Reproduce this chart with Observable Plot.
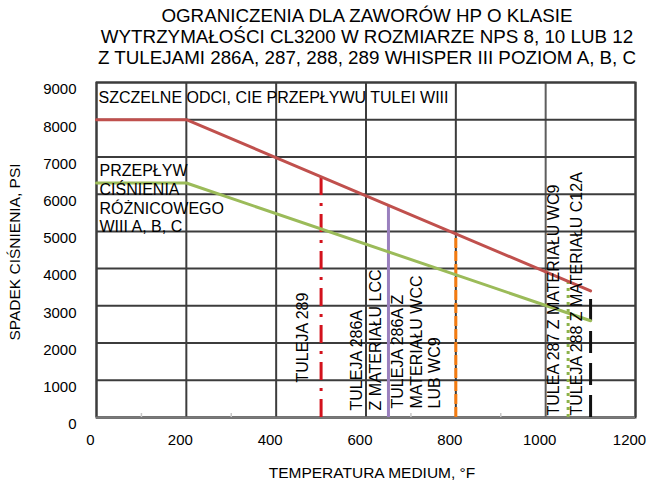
<!DOCTYPE html>
<html><head><meta charset="utf-8">
<script src="https://cdn.jsdelivr.net/npm/d3@7"></script>
<script src="https://cdn.jsdelivr.net/npm/@observablehq/plot@0.6"></script>
<style>
body{margin:0;background:#fff;}
#chart svg{font-family:"Liberation Sans",Arial,sans-serif;overflow:visible;}
</style>
</head><body><div id="chart"></div>
<script>
// ---- data ----
const titleLines = [
  "OGRANICZENIA DLA ZAWORÓW HP O KLASIE",
  "WYTRZYMAŁOŚCI CL3200 W ROZMIARZE NPS 8, 10 LUB 12",
  "Z TULEJAMI 286A, 287, 288, 289 WHISPER III POZIOM A, B, C"
];
const xLabel = "TEMPERATURA MEDIUM, °F";
const yLabel = "SPADEK CIŚNIENIA, PSI";
const xTicks = [0, 200, 400, 600, 800, 1000, 1200];
const xMinorTicks = [100, 300, 500, 700, 900, 1100];
const yTicks = [0, 1000, 2000, 3000, 4000, 5000, 6000, 7000, 8000, 9000];

const sealTemp = [0, 200, 1100];
const sealPsi = [8000, 8000, 3400];
const diffTemp = [0, 200, 1100];
const diffPsi = [6300, 6300, 2600];

const sleeveTemp = [500, 650, 800, 1050, 1100];
const sleeveTop = [6470, 5700, 4950, 3650, 3350];
const sleeveLabels = [
  "TULEJA 289",
  "TULEJA 286A\nZ MATERIAŁU LCC",
  "TULEJA 286A Z\nMATERIAŁU WCC\nLUB WC9",
  "TULEA 287 Z MATERIAŁU WC9",
  "TULEJA 288 Z MATERIAŁU C12A"
];
const sealLabel = "SZCZELNE ODCI, CIE PRZEPŁYWU TULEI WIII";
const diffLabel = "PRZEPŁYW\nCIŚNIENIA\nRÓŻNICOWEGO\nWIII A, B, C";

// ---- styles ----
const sleeveStyle = [
  {stroke: "#d3121c", dash: "18,8,3,8"},
  {stroke: "#9a80be", dash: null},
  {stroke: "#f47b10", dash: "10,3"},
  {stroke: "#8cb24a", dash: "3,4"},
  {stroke: "#111111", dash: "22,10"}
];
const labelOffset = [
  {dx: -19, dy: -35},
  {dx: -23, dy: -7},
  {dx: -40, dy: -9},
  {dx: -15, dy: -2},
  {dx: -14, dy: -2}
];

const seal = sealTemp.map((t, i) => ({t, v: sealPsi[i]}));
const diff = diffTemp.map((t, i) => ({t, v: diffPsi[i]}));
const idx = sleeveTemp.map((_, i) => i);
const grid = "#3c3c3c";
const fmt = d => String(d);

const chart = Plot.plot({
  width: 653,
  height: 483,
  marginLeft: 96,
  marginRight: 18,
  marginTop: 82,
  marginBottom: 66,
  x: {domain: [0, 1200], label: null},
  y: {domain: [0, 9000], label: null},
  style: {fontFamily: "'Liberation Sans', Arial, sans-serif", background: "#fff", color: "#000"},
  marks: [
    Plot.gridX(xTicks.filter(d => d !== 1000), {stroke: grid, strokeOpacity: 1, strokeWidth: 2}),
    Plot.gridX(xTicks.filter(d => d === 1000), {stroke: "#5e5e5e", strokeOpacity: 1, strokeWidth: 2}),
    Plot.gridY(yTicks, {stroke: grid, strokeOpacity: 1, strokeWidth: 2}),
    Plot.frame({stroke: grid, strokeWidth: 2}),
    Plot.ruleY([0], {stroke: "#7a7a7a", strokeWidth: 2}),
    Plot.axisX(xMinorTicks, {tickSize: -4, stroke: "#c8c8c8", text: null, strokeWidth: 1.5, label: null}),
    Plot.axisX(xTicks, {tickSize: 0, tickPadding: 17, dx: -6, fontSize: 15, label: null, tickFormat: fmt}),
    Plot.axisY(yTicks, {tickSize: 0, tickPadding: 20, dy: 7, fontSize: 15, label: null, tickFormat: fmt}),
    ...idx.map(i => Plot.ruleX([i], {
      x: j => sleeveTemp[j], y1: 0, y2: j => sleeveTop[j],
      stroke: sleeveStyle[i].stroke, strokeWidth: 3,
      strokeDasharray: sleeveStyle[i].dash
    })),
    Plot.line(seal, {x: "t", y: "v", stroke: "#c0504d", strokeWidth: 3}),
    Plot.line(diff, {x: "t", y: "v", stroke: "#9bbb59", strokeWidth: 3}),
    ...idx.map(i => Plot.text([i], {
      x: j => sleeveTemp[j], y: 0, text: j => sleeveLabels[j],
      rotate: -90, textAnchor: "start", lineAnchor: "middle", lineHeight: 1.15,
      dx: labelOffset[i].dx, dy: labelOffset[i].dy, fontSize: 16, fill: "#000"
    })),
    Plot.text([sealLabel], {x: 0, y: 9000, text: d => d, textAnchor: "start", lineAnchor: "top", dx: 2, dy: 9, fontSize: 16}),
    Plot.text([diffLabel], {x: 0, y: 7000, text: d => d, textAnchor: "start", lineAnchor: "top", lineHeight: 1.17, dx: 3, dy: 6, fontSize: 16}),
    Plot.text([titleLines.join("\n")], {frameAnchor: "top", text: d => d, lineAnchor: "top", lineHeight: 1.11, dx: 1, dy: -75, fontSize: 18.8}),
    Plot.text([xLabel], {frameAnchor: "bottom", text: d => d, lineAnchor: "middle", dx: 6, dy: 56, fontSize: 15.5}),
    Plot.text([yLabel], {frameAnchor: "left", text: d => d, rotate: -90, textAnchor: "middle", lineAnchor: "middle", dx: -81, dy: 2, fontSize: 15.5})
  ]
});
document.getElementById("chart").appendChild(chart);
</script>
</body></html>
